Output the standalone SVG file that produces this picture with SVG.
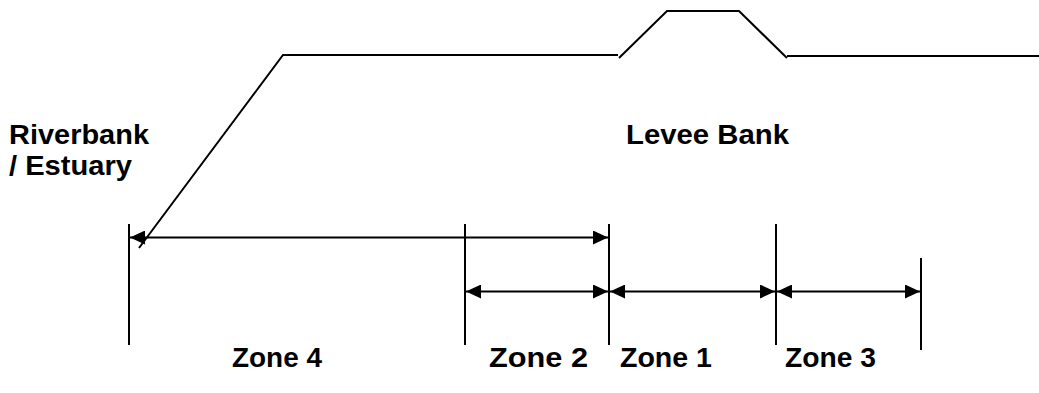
<svg xmlns="http://www.w3.org/2000/svg" width="1039" height="393" viewBox="0 0 1039 393">
<style>
.ln{stroke:#000;stroke-width:2;fill:none}
.t{font-family:"Liberation Sans",Arial,sans-serif;font-weight:bold;font-size:27px;fill:#000}
</style>
<defs>
<marker id="ah" viewBox="0 0 15 14" refX="15" refY="7" markerWidth="15" markerHeight="14" markerUnits="userSpaceOnUse" orient="auto-start-reverse">
<path d="M0,0 L15,7 L0,14 Z" fill="#000"/>
</marker>
</defs>
<rect width="1039" height="393" fill="#fff"/>
<g id="profile">
<polyline class="ln" points="139,248 283,55 618,55"/>
<polyline class="ln" points="619,58 667,11 739,11 787,58"/>
<line class="ln" x1="787" y1="56" x2="1039" y2="56"/>
</g>
<g id="ticks">
<line class="ln" x1="129" y1="224" x2="129" y2="345"/>
<line class="ln" x1="465" y1="224" x2="465" y2="345"/>
<line class="ln" x1="609" y1="224" x2="609" y2="345"/>
<line class="ln" x1="776" y1="224" x2="776" y2="345"/>
<line class="ln" x1="921" y1="258" x2="921" y2="350"/>
</g>
<g id="connectors">
<line class="ln" x1="130" y1="237.5" x2="608" y2="237.5" marker-start="url(#ah)" marker-end="url(#ah)"/>
<line class="ln" x1="466" y1="291.5" x2="608" y2="291.5" marker-start="url(#ah)" marker-end="url(#ah)"/>
<line class="ln" x1="610" y1="291.5" x2="775" y2="291.5" marker-start="url(#ah)" marker-end="url(#ah)"/>
<line class="ln" x1="777" y1="291.5" x2="920" y2="291.5" marker-start="url(#ah)" marker-end="url(#ah)"/>
</g>
<g id="label-riverbank">
<text class="t" x="9" y="144" textLength="140" lengthAdjust="spacingAndGlyphs">Riverbank</text>
<text class="t" x="9" y="175" textLength="123" lengthAdjust="spacingAndGlyphs">/ Estuary</text>
</g>
<g id="label-levee">
<text class="t" x="626" y="144" textLength="163" lengthAdjust="spacingAndGlyphs">Levee Bank</text>
</g>
<g id="zone-labels">
<text class="t" x="232" y="367" textLength="90" lengthAdjust="spacingAndGlyphs">Zone 4</text>
<text class="t" x="489" y="367" textLength="99" lengthAdjust="spacingAndGlyphs">Zone 2</text>
<text class="t" x="620" y="367" textLength="92" lengthAdjust="spacingAndGlyphs">Zone 1</text>
<text class="t" x="785" y="367" textLength="91" lengthAdjust="spacingAndGlyphs">Zone 3</text>
</g>
</svg>
